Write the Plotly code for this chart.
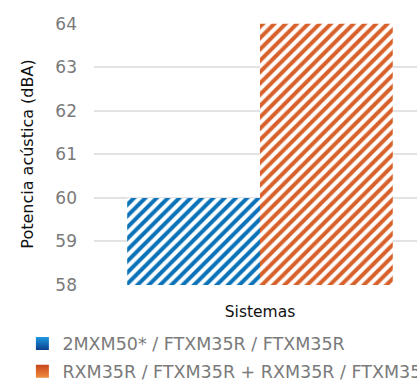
import plotly.graph_objects as go

categories = ["Sistemas"]
series_names = ["2MXM50* / FTXM35R / FTXM35R", "RXM35R / FTXM35R + RXM35R / FTXM35R"]
series_values = [[60], [64]]
series_colors = ["#0a72b8", "#d8602a"]
legend_top = ["#1e9ae0", "#c8461c"]
legend_bottom = ["#0a3f8e", "#f08c3c"]
y_ticks = [58, 59, 60, 61, 62, 63, 64]

FONT = "DejaVu Sans, sans-serif"

fig = go.Figure()
for name, vals, col in zip(series_names, series_values, series_colors):
    fig.add_trace(go.Bar(
        x=categories, y=vals, name=name, showlegend=False,
        marker=dict(color="white", line=dict(width=0),
                    pattern=dict(shape="/", fgcolor=col, bgcolor="white",
                                 size=8, solidity=0.5, fillmode="replace")),
    ))
for i, (name, top, bot) in enumerate(zip(series_names, legend_top, legend_bottom)):
    fig.add_trace(go.Scatter(
        x=[None], y=[None], mode="markers", name=name, legendgroup=f"g{i}",
        marker=dict(symbol="square", size=13, color=top,
                    gradient=dict(type="vertical", color=bot), line=dict(width=0)),
    ))

fig.update_layout(
    width=417, height=381,
    margin=dict(l=94, r=0, t=23, b=96, autoexpand=False),
    paper_bgcolor="white", plot_bgcolor="white",
    barmode="group", bargap=0.2, bargroupgap=0,
    font=dict(family=FONT, color="#777777"),
    showlegend=True,
    legend=dict(orientation="v", x=-0.2217, xanchor="left", y=-0.155, yanchor="top",
                font=dict(size=17.5, family=FONT, color="#7a7a7a"),
                tracegroupgap=2, bgcolor="rgba(0,0,0,0)"),
    xaxis=dict(range=[-0.5, 0.473], showgrid=False, zeroline=False, showline=False,
               tickfont=dict(size=15.5, family=FONT, color="#111111"), ticks="",
               ticklabelstandoff=15),
    yaxis=dict(range=[58, 64.02], tickvals=y_ticks, showgrid=True, gridcolor="#e3e3e3",
               gridwidth=2, zeroline=False, showline=False, ticks="",
               tickfont=dict(size=17, family=FONT, color="#7a7a7a"), ticklabelstandoff=16,
               title=dict(text="Potencia acústica (dBA)",
                          font=dict(size=16, family=FONT, color="#111111"),
                          standoff=17)),
)

fig.write_html("out.html", config={"displayModeBar": False},
               post_script="document.body.style.margin='0px';document.body.style.overflow='hidden';")
